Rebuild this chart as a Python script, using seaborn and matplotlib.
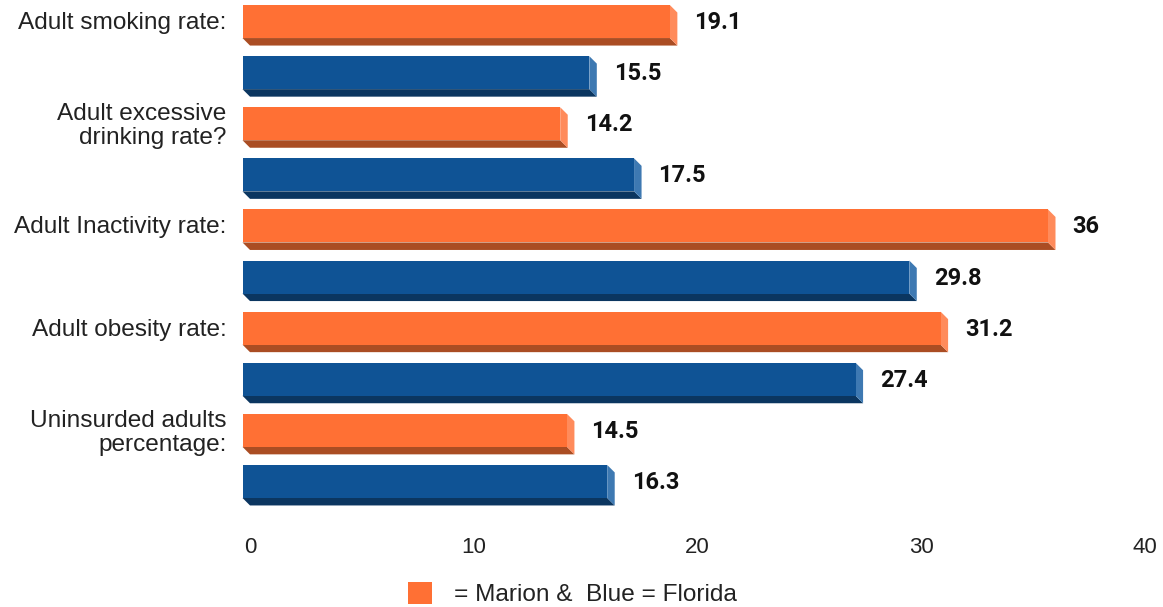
import matplotlib
matplotlib.use("Agg")
import matplotlib.pyplot as plt
from matplotlib.patches import Polygon, Patch
from matplotlib.transforms import ScaledTranslation
import seaborn as sns
import pandas as pd

categories = ["Adult smoking rate:", "Adult excessive\ndrinking rate?", "Adult Inactivity rate:",
              "Adult obesity rate:", "Uninsurded adults\npercentage:"]
marion = [19.1, 14.2, 36, 31.2, 14.5]
florida = [15.5, 17.5, 29.8, 27.4, 16.3]
xticks = [0, 10, 20, 30, 40]
legend_text = "= Marion &  Blue = Florida"

front = {"Marion": "#FF7034", "Florida": "#0F5395"}
side = {"Marion": "#FF8B5B", "Florida": "#3E79B2"}
bottom = {"Marion": "#AA4D23", "Florida": "#0B3660"}

rows, vals, series = [], [], []
for i, c in enumerate(categories):
    rows += [f"r{2*i}", f"r{2*i+1}"]
    vals += [marion[i], florida[i]]
    series += ["Marion", "Florida"]
df = pd.DataFrame({"row": rows, "value": vals, "series": series})

sns.set_style("white")
W, H = 1163, 607
fig = plt.figure(figsize=(W / 100, H / 100), dpi=100)
left, right = 250, 1145
top_px, bot_px = 3.5, 514.5
ax = fig.add_axes([left / W, 1 - bot_px / H, (right - left) / W, (bot_px - top_px) / H])

sns.barplot(data=df, x="value", y="row", hue="series", palette=front, dodge=False,
            width=0.646, orient="h", legend=False, ax=ax, saturation=1)
ax.set_xlim(0, 40)
ax.set_ylim(9.5, -0.5)

p0 = ax.transData.transform((0, 0))
p1 = ax.transData.transform((1, 1))
ppx = p1[0] - p0[0]
ppy = abs(p1[1] - p0[1])
depth = 7.5
dx = depth / ppx
dy = depth / ppy

bars = [p for p in ax.patches if p.get_width() > 0]
for p in bars:
    w = p.get_width()
    y = p.get_y()
    h = p.get_height()
    yc = y + h / 2
    idx = int(round(yc))
    s = series[idx]
    ax.add_patch(Polygon([(-dx, y + h - dy), (w - dx, y + h - dy), (w, y + h), (0, y + h)],
                         closed=True, facecolor=bottom[s], edgecolor="none", clip_on=False))
    ax.add_patch(Polygon([(w - dx, y - dy), (w, y), (w, y + h), (w - dx, y + h - dy)],
                         closed=True, facecolor=side[s], edgecolor="none", clip_on=False))
    p.set_x(-dx)
    p.set_y(y - dy)
    p.set_clip_on(False)
    p.set_edgecolor("none")
    p.set_zorder(3)
    ax.annotate(f"{vals[idx]:g}", xy=(w, yc), xytext=(17, 6.5), textcoords="offset pixels",
                ha="left", va="center", fontsize=17, fontweight="bold", family="Roboto",
                color="#111111", annotation_clip=False)

ax.set_yticks([2 * i for i in range(len(categories))])
ax.set_yticklabels(categories, fontsize=17.6, family="Liberation Sans", linespacing=1.12)
ax.set_xticks(xticks)
ax.set_xticklabels([str(t) for t in xticks], fontsize=16, family="Liberation Sans")
ax.tick_params(axis="y", length=0, pad=17, colors="#222222")
ax.tick_params(axis="x", length=0, pad=16, colors="#222222")
shift = ScaledTranslation(0, 8.5 / 100, fig.dpi_scale_trans)
for lbl in ax.get_yticklabels():
    lbl.set_transform(lbl.get_transform() + shift)
ax.set_xlabel("")
ax.set_ylabel("")
for sp in ax.spines.values():
    sp.set_visible(False)

handle = Patch(facecolor=front["Marion"], edgecolor="none")
fig.legend(handles=[handle], labels=[legend_text], loc="center", bbox_to_anchor=(0.492, 0.0214),
           bbox_transform=fig.transFigure, frameon=False, borderpad=0, handlelength=1.0,
           handleheight=1.0, handletextpad=0.9,
           prop={"family": "Liberation Sans", "size": 17.6})
for t in fig.legends[0].get_texts():
    t.set_color("#222222")

fig.savefig("out.png", dpi=100)
